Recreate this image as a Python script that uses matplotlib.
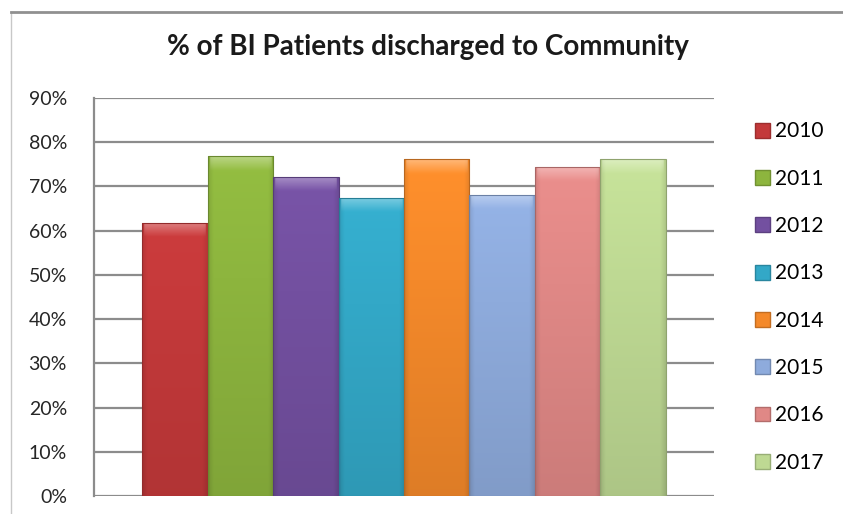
import numpy as np
import matplotlib.pyplot as plt
import matplotlib.colors as mcolors
from matplotlib.lines import Line2D

years = ["2010", "2011", "2012", "2013", "2014", "2015", "2016", "2017"]
values = [61.8, 76.8, 72.2, 67.5, 76.2, 68.1, 74.4, 76.2]
colors = ["#c3393a", "#8db53e", "#7350a0", "#33a8c7", "#f4892a", "#8eabdc", "#e08886", "#bed993"]
yticks = [0, 10, 20, 30, 40, 50, 60, 70, 80, 90]

plt.rcParams['font.family'] = ['Lato', 'DejaVu Sans']


def shade(ax, patch, color):
    # fake the excel bevel: lighter top, darker bottom and edges
    x0, y0 = patch.get_x(), patch.get_y()
    w, h = patch.get_width(), patch.get_height()
    base = np.array(mcolors.to_rgb(color))
    nx, ny = 60, 200
    xs = np.linspace(0, 1, nx)
    ys = np.linspace(0, 1, ny)[:, None]  # 0 = top
    edge = np.minimum(xs, 1 - xs)[None, :]
    fac = 1.05 - 0.14 * ys - 0.10 * np.clip(1 - edge / 0.08, 0, 1)
    img = np.clip(base[None, None, :] * fac[..., None], 0, 1)
    # highlight band at the top of each bar
    top_px = 14.0 / (h * 4.42)
    band = np.clip(1 - ys / top_px, 0, 1) * (edge > 0.03)
    img = img + (1 - img) * (0.35 * band)[..., None]
    img = np.clip(img, 0, 1)
    im = ax.imshow(img, extent=[x0, x0 + w, y0, y0 + h], origin="upper",
                   aspect="auto", zorder=3, interpolation="bilinear")
    im.set_clip_path(patch)


fig = plt.figure(figsize=(8.43, 5.14), dpi=100)
ax = fig.add_axes([94 / 843, 18 / 514, 620 / 843, 398 / 514])

w = 0.1056
xpos = [(i - 3.5) * w for i in range(len(years))]
bars = ax.bar(xpos, values, width=w, color=colors, edgecolor="none", zorder=2)
for b, c in zip(bars, colors):
    shade(ax, b, c)
    ax.add_patch(plt.Rectangle((b.get_x(), 0), b.get_width(), b.get_height(), fill=False,
                               edgecolor=np.array(mcolors.to_rgb(c)) * 0.75, lw=0.8, zorder=4))

ax.set_xlim(-0.5, 0.5)
ax.set_ylim(0, 90)
ax.set_yticks(yticks)
ax.set_yticklabels([f"{t}%" for t in yticks], fontsize=14, color="#262626")
ax.set_xticks([])
ax.tick_params(axis="y", length=0, pad=19.5)
ax.grid(axis="y", color="#8c8c8c", linewidth=1.6, zorder=1)
ax.set_axisbelow(True)
for s in ["top", "right", "bottom"]:
    ax.spines[s].set_visible(False)
ax.spines["left"].set_color("#8c8c8c")
ax.spines["left"].set_linewidth(1.6)

fig.text(428 / 843, 1 - 47 / 514, "% of BI Patients discharged to Community",
         fontsize=20, fontweight="bold", ha="center", va="center", color="#1a1a1a")

handles = [plt.Rectangle((0, 0), 1, 1, facecolor=c, edgecolor=np.array(mcolors.to_rgb(c)) * 0.8)
           for c in colors]
fig.legend(handles, years, loc="center left", bbox_to_anchor=(746.5 / 843, 1 - 297 / 514),
           frameon=False, fontsize=15, handlelength=0.72, handleheight=0.72,
           handletextpad=0.25, labelspacing=1.31, borderaxespad=0)

# chart frame edges that show at the top and left of the picture
fig.add_artist(Line2D([11 / 843, 11 / 843], [0, 1 - 12 / 514], transform=fig.transFigure,
                      color="#c8c8c8", lw=1))
fig.add_artist(Line2D([11 / 843, 1], [1 - 12 / 514, 1 - 12 / 514], transform=fig.transFigure,
                      color="#909090", lw=2))

fig.savefig("out.png", dpi=100)
